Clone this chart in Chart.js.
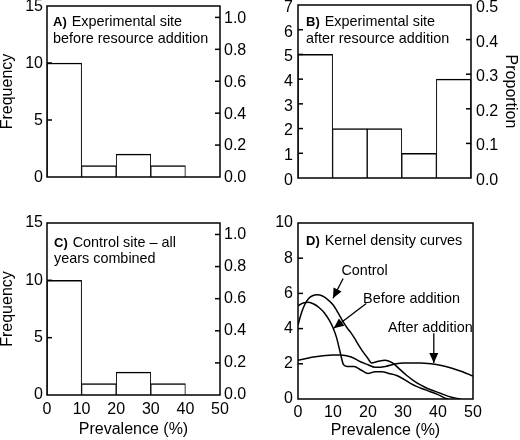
<!DOCTYPE html>
<html>
<head>
<meta charset="utf-8">
<script src="https://cdn.jsdelivr.net/npm/chart.js@4.4.0/dist/chart.umd.min.js"></script>
<style>
html, body { margin: 0; padding: 0; background: #fff; }
#wrap { position: relative; width: 520px; height: 440px; }
#wrap canvas { position: absolute; left: 0; top: 0; }
</style>
</head>
<body>
<div id="wrap">
  <canvas id="chartA" width="520" height="440"></canvas>
  <canvas id="chartB" width="520" height="440"></canvas>
  <canvas id="chartC" width="520" height="440"></canvas>
  <canvas id="chartD" width="520" height="440"></canvas>
</div>
<script>
// Histogram bins (prevalence %, bin centres of 10% wide bins)
const binCentres = [5, 15, 25, 35, 45];
const freqBefore = [10, 1, 2, 1, 0];
const freqAfter = [5, 2, 2, 1, 4];
const freqControl = [10, 1, 2, 1, 0];
const sitesBefore = 14;
const sitesAfter = 14;
const sitesControl = 14;

// Kernel density curves
const controlX = [0, 1, 2, 3, 4, 5.5, 7, 8.5, 10, 11, 12, 13, 14, 15, 16, 18, 20, 21, 23, 25, 27, 29, 31, 33, 35, 37, 39, 41, 43, 45, 46.5];
const controlY = [4.2, 4.9, 5.4, 5.7, 5.85, 5.92, 5.85, 5.65, 5.35, 5.05, 4.7, 4.35, 4.05, 3.8, 3.5, 2.85, 2.3, 2.05, 2.15, 2.2, 2.05, 1.7, 1.35, 1.05, 0.8, 0.6, 0.45, 0.3, 0.15, 0.05, 0];
const beforeX = [0, 1.5, 3, 4.5, 6, 7.5, 9, 10, 11, 12, 13, 14, 16, 18, 20, 22, 24, 26, 28, 30, 32, 34, 36, 38, 40, 42, 43];
const beforeY = [5.3, 5.45, 5.5, 5.4, 5.2, 4.9, 4.45, 4.05, 3.5, 2.7, 1.95, 1.85, 1.85, 1.65, 1.45, 1.55, 1.55, 1.45, 1.35, 1.15, 0.9, 0.7, 0.55, 0.4, 0.25, 0.05, 0];
const afterX = [0, 5, 10, 12, 15, 18, 20, 22, 25, 28, 30, 35, 38, 41, 44, 47, 50];
const afterY = [2.2, 2.4, 2.5, 2.5, 2.4, 2.1, 1.95, 1.8, 1.85, 2.0, 2.05, 2.05, 2.0, 1.9, 1.75, 1.55, 1.3];

Chart.defaults.font.family = '"Liberation Sans", Arial, Helvetica, sans-serif';
Chart.defaults.font.size = 16;
Chart.defaults.color = '#000';

const FONT = '"Liberation Sans", Arial, Helvetica, sans-serif';

// fix an axis' thickness so the plot boxes line up
function sizeAxis(size) {
    return function (scale) {
        if (scale.isHorizontal()) scale.height = size;
        else scale.width = size;
        scale.paddingTop = 0;
        scale.paddingBottom = 0;
        scale.paddingLeft = 0;
        scale.paddingRight = 0;
    };
}

function axisTitle(text) {
    return { display: !!text, text: text || '', padding: 0, font: { size: 16, lineHeight: 1 } };
}

function freqAxis(max, step, width, title, pad, shift) {
    return {
        position: 'left', min: 0, max: max,
        grid: { display: false, drawTicks: false }, border: { display: false },
        ticks: { stepSize: step, padding: pad, labelOffset: shift || 0 },
        title: axisTitle(title),
        afterFit: sizeAxis(width)
    };
}

function propAxis(max, step, width, title, pad, shift) {
    return {
        type: 'linear', position: 'right', min: 0, max: max,
        grid: { display: false, drawTicks: false }, border: { display: false },
        ticks: { stepSize: step, padding: pad, labelOffset: shift || 0, includeBounds: false, callback: v => v.toFixed(1) },
        title: axisTitle(title),
        afterFit: sizeAxis(width)
    };
}

function prevAxis(show, height, pad) {
    const ax = {
        type: 'linear', min: 0, max: 50, offset: false, display: show,
        grid: { display: false, drawTicks: false, offset: false }, border: { display: false },
        ticks: { stepSize: 10, padding: pad },
        title: axisTitle(show ? 'Prevalence (%)' : '')
    };
    if (show) ax.afterFit = sizeAxis(height);
    return ax;
}

function arrowHead(ctx, x0, y0, x1, y1) {
    const ang = Math.atan2(y1 - y0, x1 - x0);
    const len = 10, half = 4.5;
    ctx.beginPath();
    ctx.moveTo(x1, y1);
    ctx.lineTo(x1 - len * Math.cos(ang) + half * Math.sin(ang), y1 - len * Math.sin(ang) - half * Math.cos(ang));
    ctx.lineTo(x1 - len * Math.cos(ang) - half * Math.sin(ang), y1 - len * Math.sin(ang) + half * Math.cos(ang));
    ctx.closePath();
    ctx.fill();
}

// frame, inward ticks, panel caption and arrows
function panelPlugin(note) {
    return {
        id: 'panel',
        afterDraw(chart) {
            const ctx = chart.ctx;
            const a = chart.chartArea;
            ctx.save();
            ctx.strokeStyle = '#000';
            ctx.fillStyle = '#000';
            ctx.lineWidth = 1.5;
            ctx.strokeRect(a.left, a.top, a.right - a.left, a.bottom - a.top);

            Object.values(chart.scales).forEach(s => {
                if (s.axis !== 'y' || !s.options.display) return;
                s.ticks.forEach(t => {
                    if (t.value <= s.min + 1e-9 || t.value >= s.max - 1e-9) return;
                    const y = s.getPixelForValue(t.value);
                    const x0 = s.position === 'left' ? a.left : a.right;
                    const dir = s.position === 'left' ? 1 : -1;
                    ctx.beginPath();
                    ctx.moveTo(x0, y);
                    ctx.lineTo(x0 + dir * 5, y);
                    ctx.stroke();
                });
            });

            ctx.textBaseline = 'middle';
            ctx.textAlign = 'left';
            const x = a.left + note.dx;
            ctx.font = 'bold 13px ' + FONT;
            ctx.fillText(note.tag, x, a.top + note.dy[0]);
            const tagW = ctx.measureText(note.tag).width;
            ctx.font = '14.4px ' + FONT;
            ctx.fillText(note.lines[0], x + tagW + 5, a.top + note.dy[0]);
            if (note.lines[1]) ctx.fillText(note.lines[1], x, a.top + note.dy[1]);

            if (note.arrows) {
                const sx = chart.scales.x, sy = chart.scales.y;
                ctx.lineWidth = 1.3;
                note.arrows.forEach(ar => {
                    ctx.fillText(ar.text, sx.getPixelForValue(ar.at[0]), sy.getPixelForValue(ar.at[1]));
                    const x0 = sx.getPixelForValue(ar.from[0]), y0 = sy.getPixelForValue(ar.from[1]);
                    const x1 = sx.getPixelForValue(ar.to[0]), y1 = sy.getPixelForValue(ar.to[1]);
                    ctx.beginPath();
                    ctx.moveTo(x0, y0);
                    ctx.lineTo(x1, y1);
                    ctx.stroke();
                    arrowHead(ctx, x0, y0, x1, y1);
                });
            }
            ctx.restore();
        }
    };
}

function histData(counts) {
    return {
        datasets: [{
            data: binCentres.map((x, i) => ({ x: x, y: counts[i] })),
            backgroundColor: '#fff',
            borderColor: '#000',
            borderWidth: { top: 1.5, left: 1, right: 1, bottom: 0 },
            borderSkipped: false,
            barPercentage: 1,
            categoryPercentage: 1
        }]
    };
}

function baseOptions(padding) {
    return {
        responsive: false,
        animation: false,
        events: [],
        layout: { padding: padding },
        plugins: { legend: { display: false }, tooltip: { enabled: false } }
    };
}

// A) before resource addition
const optA = baseOptions({ left: 0, right: 260, top: 6, bottom: 263 });
optA.scales = {
    x: prevAxis(false),
    y: freqAxis(15, 5, 47, 'Frequency', 4, 1),
    y1: propAxis(15 / sitesBefore, 0.2, 40, '', 4, 1)
};
new Chart(document.getElementById('chartA'), {
    type: 'bar', data: histData(freqBefore), options: optA,
    plugins: [panelPlugin({ tag: 'A)', lines: ['Experimental site', 'before resource addition'], dx: 6, dy: [16, 33] })]
});

// B) after resource addition
const optB = baseOptions({ left: 268, right: 2, top: 5, bottom: 262 });
optB.scales = {
    x: prevAxis(false),
    y: freqAxis(7, 1, 30, '', 5, 2.5),
    y1: propAxis(7 / sitesAfter, 0.1, 47, 'Proportion', 5, 2.5)
};
new Chart(document.getElementById('chartB'), {
    type: 'bar', data: histData(freqAfter), options: optB,
    plugins: [panelPlugin({ tag: 'B)', lines: ['Experimental site', 'after resource addition'], dx: 8, dy: [17, 34] })]
});

// C) control site
const optC = baseOptions({ left: 0, right: 260, top: 223, bottom: 2 });
optC.scales = {
    x: prevAxis(true, 43, 5),
    y: freqAxis(15, 5, 47, 'Frequency', 4),
    y1: propAxis(15 / sitesControl, 0.2, 40, '', 4)
};
new Chart(document.getElementById('chartC'), {
    type: 'bar', data: histData(freqControl), options: optC,
    plugins: [panelPlugin({ tag: 'C)', lines: ['Control site \u2013 all', 'years combined'], dx: 7, dy: [20, 36] })]
});

// D) kernel density curves
function curve(xs, ys) {
    return {
        data: xs.map((x, i) => ({ x: x, y: ys[i] })),
        borderColor: '#000',
        borderWidth: 1.5,
        pointRadius: 0,
        fill: false,
        cubicInterpolationMode: 'monotone'
    };
}
const optD = baseOptions({ left: 258, right: 47, top: 223, bottom: 1 });
optD.scales = {
    x: prevAxis(true, 40, 4),
    y: freqAxis(10, 2, 40, '', 5)
};
new Chart(document.getElementById('chartD'), {
    type: 'line',
    data: { datasets: [curve(controlX, controlY), curve(beforeX, beforeY), curve(afterX, afterY)] },
    options: optD,
    plugins: [panelPlugin({
        tag: 'D)', lines: ['Kernel density curves'], dx: 8, dy: [18],
        arrows: [
            { text: 'Control', at: [12.4, 7.26], from: [12.9, 6.85], to: [10, 5.72] },
            { text: 'Before addition', at: [18.6, 5.66], from: [19.5, 5.43], to: [10.2, 4.02] },
            { text: 'After addition', at: [25.7, 4.02], from: [38.8, 3.74], to: [38.8, 2.04] }
        ]
    })]
});
</script>
</body>
</html>
